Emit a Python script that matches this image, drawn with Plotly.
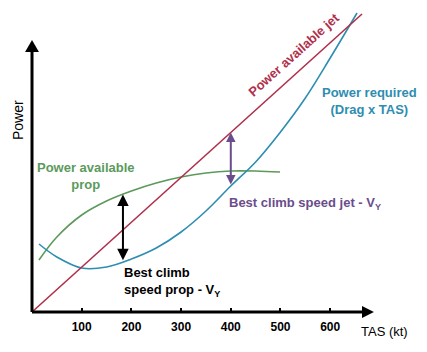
import numpy as np
import plotly.graph_objects as go

# ---- data (TAS in kt, power in arbitrary units) ----
jet_tas = [0, 664]
jet_power = [0, 298]

req_tas = [14, 50, 100, 150, 200, 250, 300, 350, 400, 450, 500, 550, 600, 654]
req_power = [68, 55, 44, 45, 53, 64, 80, 101, 126, 150, 180, 214, 254, 299]

prop_tas = [14, 50, 100, 150, 200, 250, 300, 350, 400, 450, 499]
prop_power = [52, 75, 97, 111, 121, 129, 135, 139, 141, 141, 140]

tick_vals = [100, 200, 300, 400, 500, 600]
tick_text = ["100", "200", "300", "400", "500", "600"]

vy_prop = 183
vy_jet = 400

RED = "#b0304c"
BLUE = "#2e8db0"
GREEN = "#5b9a5b"
PURPLE = "#6b4c8c"

XR = [-64.4, 794.8]
YR = [-40, 312]

fig = go.Figure()
fig.add_trace(go.Scatter(x=prop_tas, y=prop_power, mode="lines", line=dict(color=GREEN, width=1.6, shape="spline"), hoverinfo="skip"))
fig.add_trace(go.Scatter(x=req_tas, y=req_power, mode="lines", line=dict(color=BLUE, width=1.6, shape="spline"), hoverinfo="skip"))
fig.add_trace(go.Scatter(x=jet_tas, y=jet_power, mode="lines", line=dict(color=RED, width=1.6), hoverinfo="skip"))

# axes lines + arrowheads
xtip = 688
ytip = 272
fig.add_shape(type="line", x0=0, y0=0, x1=xtip - 20, y1=0, line=dict(color="black", width=3))
fig.add_shape(type="line", x0=0, y0=0, x1=0, y1=ytip - 10, line=dict(color="black", width=3))
fig.add_shape(type="path", path=f"M {xtip-24},-6 L {xtip},0 L {xtip-24},6 Z", fillcolor="black", line=dict(color="black", width=0))
fig.add_shape(type="path", path=f"M -14,{ytip-12} L 0,{ytip} L 14,{ytip-12} Z", fillcolor="black", line=dict(color="black", width=0))

# double arrows
def dbl_arrow(xv, ytop, ybot, color, size):
    fig.add_annotation(x=xv, y=ytop, ax=xv, ay=ybot, xref="x", yref="y", axref="x", ayref="y",
                       text="", showarrow=True, arrowhead=2, startarrowhead=2, arrowside="end+start",
                       arrowwidth=2, arrowsize=size, startarrowsize=size, arrowcolor=color)

dbl_arrow(vy_prop, float(np.interp(vy_prop, prop_tas, prop_power)), float(np.interp(vy_prop, req_tas, req_power)), "black", 1.15)
dbl_arrow(vy_jet, float(np.interp(vy_jet, jet_tas, jet_power)), float(np.interp(vy_jet, req_tas, req_power)), PURPLE, 0.95)

BF = "Liberation Sans, Arial, sans-serif"
fig.add_annotation(x=527, y=258, text="<b>Power available jet</b>", showarrow=False, textangle=-42,
                   font=dict(family=BF, size=13, color=RED))
fig.add_annotation(x=680, y=211, text="<b>Power required<br>(Drag x TAS)</b>", showarrow=False,
                   font=dict(family=BF, size=13, color=BLUE))
fig.add_annotation(x=109, y=136, text="<b>Power available<br>prop</b>", showarrow=False,
                   font=dict(family=BF, size=13, color=GREEN))
fig.add_annotation(x=392, y=109, text="<b>Best climb speed jet - V<sub>Y</sub></b>", showarrow=False, xanchor="left",
                   font=dict(family=BF, size=13, color=PURPLE))
fig.add_annotation(x=181, y=30, text="<b>Best climb<br>speed prop - V<sub>Y</sub></b>", showarrow=False, xanchor="left", align="left",
                   font=dict(family=BF, size=13, color="black"))
fig.add_annotation(x=710, y=-19, text="TAS (kt)", showarrow=False,
                   font=dict(family=BF, size=13, color="black"))
fig.add_annotation(x=-28, y=192, text="Power", showarrow=False, textangle=-90,
                   font=dict(family=BF, size=14, color="black"))

fig.update_layout(
    width=427, height=352, margin=dict(l=0, r=0, t=0, b=0),
    paper_bgcolor="white", plot_bgcolor="white", showlegend=False,
    xaxis=dict(range=XR, showgrid=False, zeroline=False, showline=False,
               anchor="free", position=(0 - YR[0]) / (YR[1] - YR[0]),
               tickmode="array", tickvals=tick_vals, ticktext=["<b>" + t + "</b>" for t in tick_text],
               ticks="inside", ticklen=4, tickwidth=2, tickcolor="black",
               ticklabelstandoff=6,
               tickfont=dict(family=BF, size=12, color="black"),
               fixedrange=True),
    yaxis=dict(range=YR, visible=False, fixedrange=True),
)
fig.write_html("out.html")
